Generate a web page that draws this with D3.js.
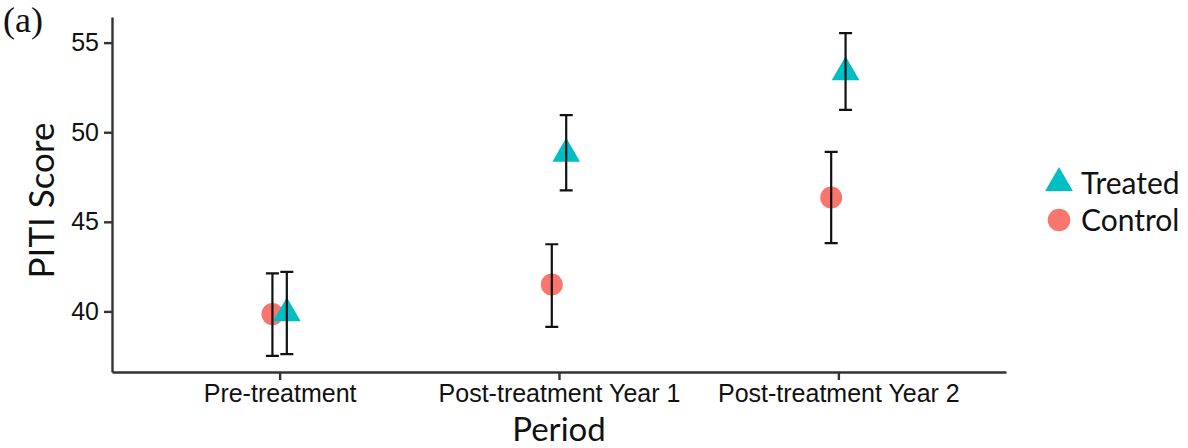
<!DOCTYPE html>
<html>
  <head>
    <meta charset="utf-8">
    <title>PITI Score by period</title>
    <script src="https://cdn.jsdelivr.net/npm/d3@7"></script>
    <style>
      body { margin: 0; background: #fff; }
      svg { display: block; font-family: Lato, "Noto Sans", sans-serif; }
      .axis path, .axis line { stroke: #333; stroke-width: 2.4px; }
      .axis text { fill: #111; font-size: 25px; }
    </style>
  </head>

  <body>
    <svg id="chart" width="1188" height="448"></svg>

    <script>
      // data
      periods = ["Pre-treatment", "Post-treatment Year 1", "Post-treatment Year 2"];
      treatedMean = [39.9, 48.8, 53.35];
      treatedLow = [37.62, 46.75, 51.25];
      treatedHigh = [42.21, 50.95, 55.53];
      controlMean = [39.85, 41.5, 46.36];
      controlLow = [37.52, 39.14, 43.81];
      controlHigh = [42.12, 43.75, 48.9];
      yTicks = [40, 45, 50, 55];
      groups = ["Treated", "Control"];
      groupColours = ["#00BFC4", "#F8766D"];

      svg = d3.select("#chart");
      margin = {top: 17, right: 182, bottom: 76, left: 112};
      width = 1188 - margin.left - margin.right;
      height = 448 - margin.top - margin.bottom;

      series = [
        {name: "Control", mean: controlMean, low: controlLow, high: controlHigh, dodge: -7.2, colour: groupColours[1]},
        {name: "Treated", mean: treatedMean, low: treatedLow, high: treatedHigh, dodge: 7.2, colour: groupColours[0]}
      ];

      // scales (ggplot-like 5% expansion on y)
      allValues = controlLow.concat(controlHigh, treatedLow, treatedHigh);
      yExtent = d3.extent(allValues);
      yPad = (yExtent[1] - yExtent[0]) * 0.05;
      y = d3.scaleLinear()
        .domain([yExtent[0] - yPad, yExtent[1] + yPad])
        .range([height, 0]);
      x = d3.scalePoint()
        .domain(periods)
        .range([0, width])
        .padding(0.6);

      g = svg.append("g")
        .attr("transform", "translate(" + margin.left + "," + margin.top + ")");

      // axes
      g.append("g")
        .attr("class", "axis")
        .attr("transform", "translate(0," + height + ")")
        .call(d3.axisBottom(x).tickSize(8).tickSizeOuter(0).tickPadding(4));
      g.append("g")
        .attr("class", "axis")
        .call(d3.axisLeft(y).tickValues(yTicks).tickSize(8).tickSizeOuter(0).tickPadding(5));

      triangle = function(r) {
        var hw = r * Math.sqrt(3) / 2;
        return "M0," + (-r) + "L" + hw + "," + (r / 2) + "L" + (-hw) + "," + (r / 2) + "Z";
      };

      // points
      series.forEach(function(s) {
        var pts = g.append("g").selectAll(".pt")
          .data(periods)
          .enter();
        if (s.name == "Treated") {
          pts.append("path")
            .attr("d", triangle(16))
            .attr("transform", function(d, i) {
              return "translate(" + (x(d) + s.dodge) + "," + y(s.mean[i]) + ")";
            })
            .style("fill", s.colour);
        } else {
          pts.append("circle")
            .attr("cx", function(d) { return x(d) + s.dodge; })
            .attr("cy", function(d, i) { return y(s.mean[i]); })
            .attr("r", 11)
            .style("fill", s.colour);
        }
      });

      // error bars
      series.forEach(function(s) {
        g.append("g")
          .selectAll(".bar")
          .data(periods)
          .enter().append("path")
            .attr("d", function(d, i) {
              var cx = x(d) + s.dodge, lo = y(s.low[i]), hi = y(s.high[i]);
              return "M" + (cx - 6.5) + "," + hi + "H" + (cx + 6.5) +
                     "M" + cx + "," + hi + "V" + lo +
                     "M" + (cx - 6.5) + "," + lo + "H" + (cx + 6.5);
            })
            .style("fill", "none")
            .style("stroke", "#111")
            .style("stroke-width", 2.2);
      });

      // axis titles
      svg.append("text")
        .attr("x", margin.left + width / 2)
        .attr("y", 441)
        .attr("text-anchor", "middle")
        .style("font-size", "33px")
        .style("fill", "#111")
        .text("Period");
      svg.append("text")
        .attr("transform", "translate(54," + (margin.top + height / 2 + 6) + ") rotate(-90)")
        .attr("text-anchor", "middle")
        .style("font-size", "35px")
        .style("fill", "#111")
        .text("PITI Score");

      // panel tag
      svg.append("text")
        .attr("x", 3)
        .attr("y", 32)
        .style("font-family", "'Liberation Serif', serif")
        .style("font-size", "36px")
        .style("fill", "#111")
        .text("(a)");

      // legend
      legend = svg.append("g")
        .attr("transform", "translate(1059,183)");
      legend.append("path")
        .attr("d", triangle(16))
        .style("fill", groupColours[0]);
      legend.append("circle")
        .attr("cy", 37)
        .attr("r", 11.3)
        .style("fill", groupColours[1]);
      legend.selectAll(".lab")
        .data(groups)
        .enter().append("text")
          .attr("x", 22)
          .attr("y", function(d, i) { return i * 37 + 11; })
          .style("font-size", "30px")
          .style("fill", "#111")
          .text(function(d) { return d; });
    </script>
  </body>
</html>
